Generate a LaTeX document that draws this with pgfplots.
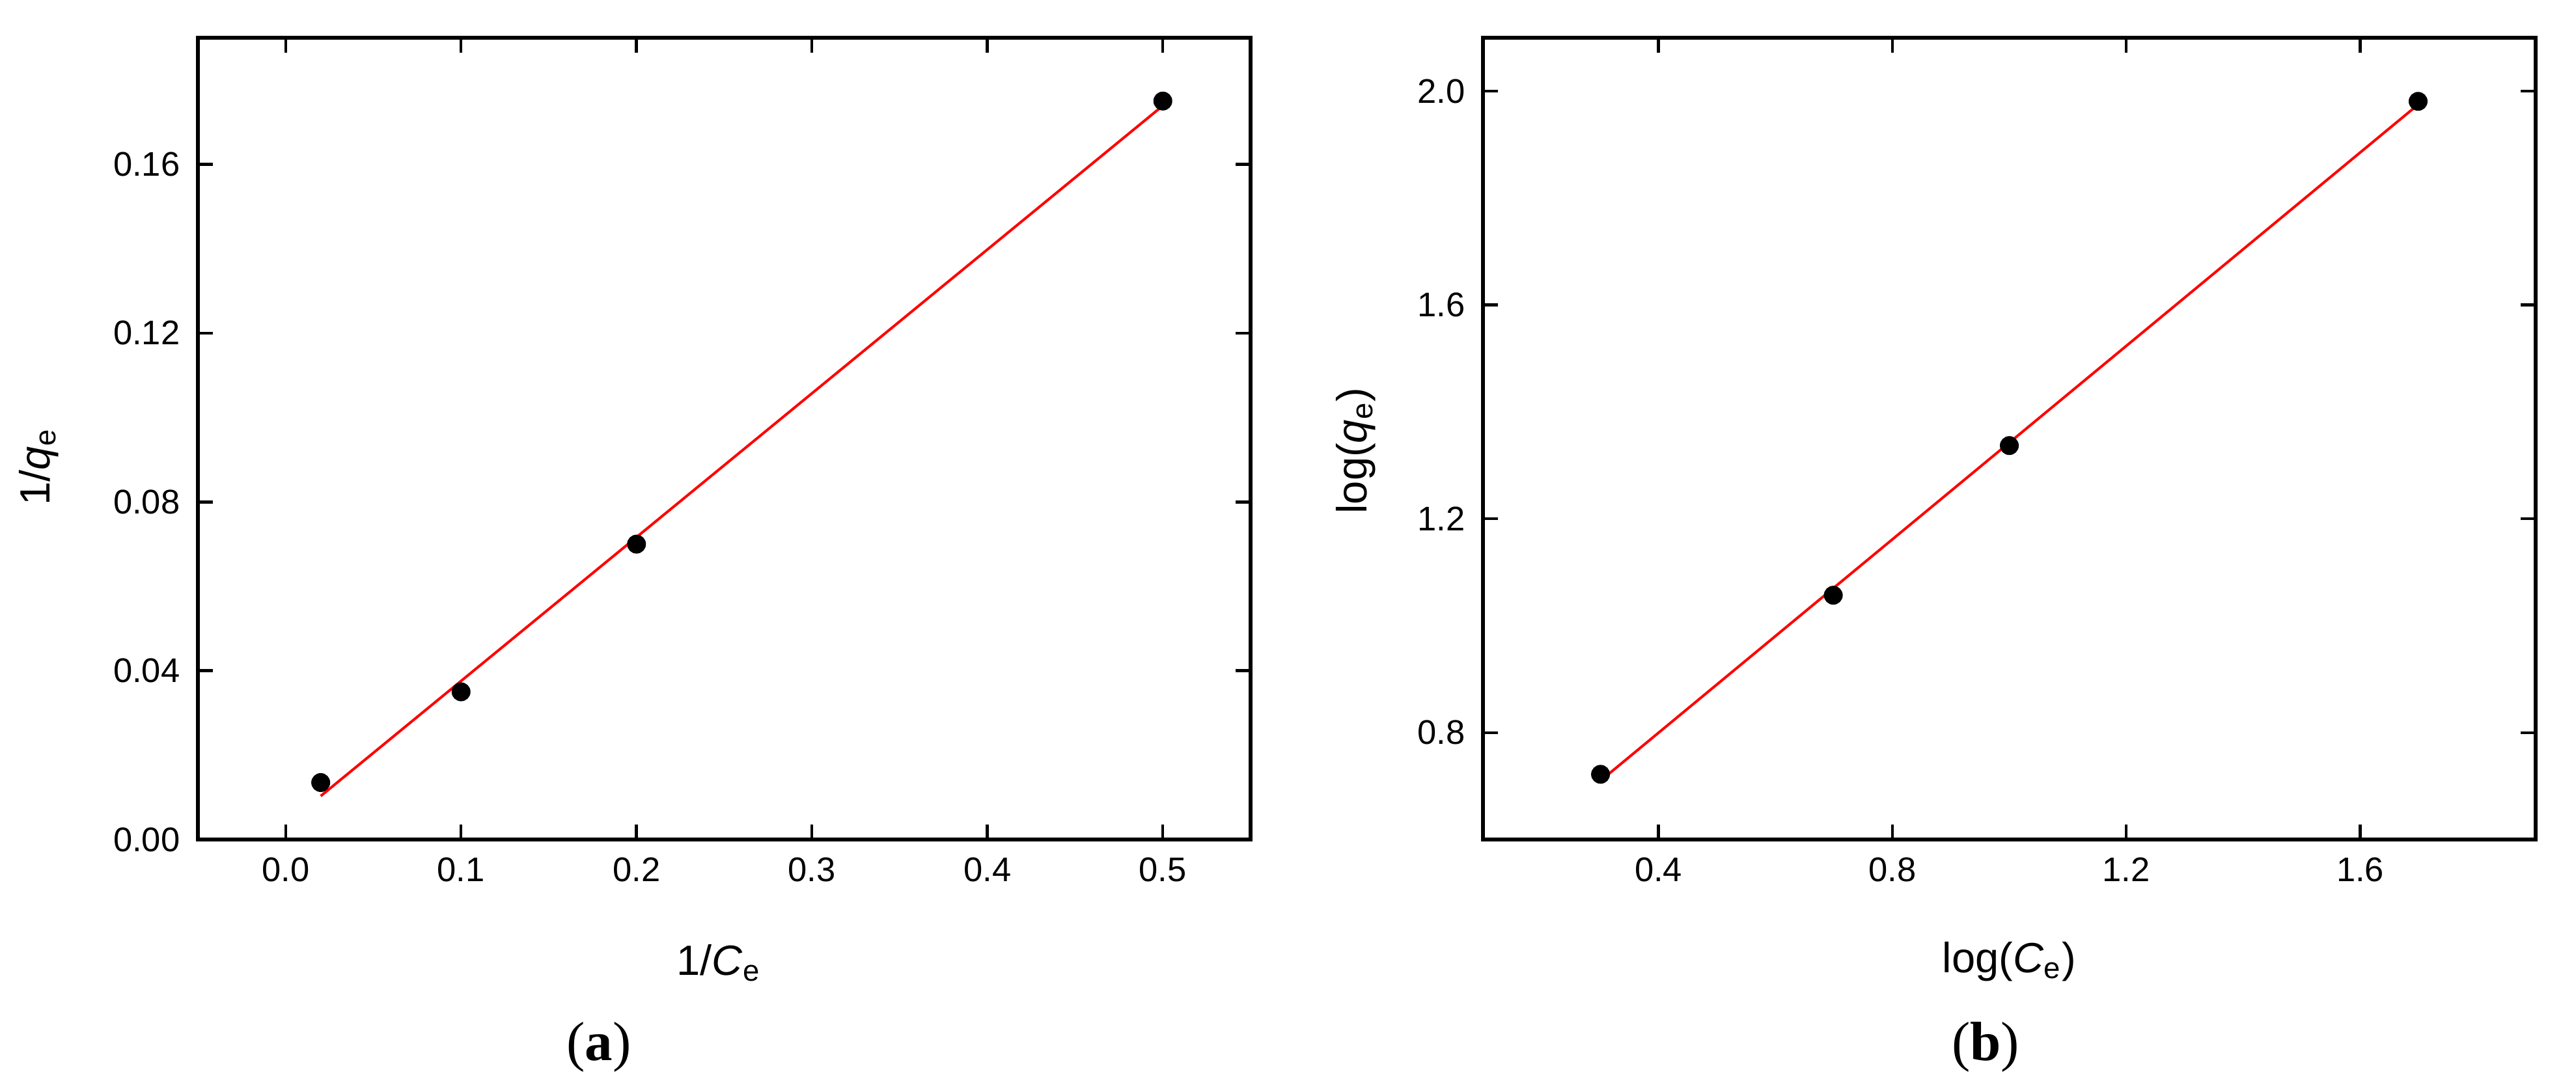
\documentclass[border=0pt]{standalone}
\usepackage{fontspec}
\setmainfont{Liberation Sans}
\newfontfamily\capfont{Liberation Serif}
\usepackage{pgfplots}
\pgfplotsset{compat=1.18}

\pgfplotsset{
  isotherm/.style={
    scale only axis,
    width=323.4pt,height=246.4pt,
    axis line style={line width=1.1pt},
    tick align=inside,
    major tick length=4.6pt,
    every tick/.style={black,line width=0.9pt},
    tick label style={font=\fontsize{10.5}{12}\selectfont},
    xticklabel style={yshift=-2pt},
    yticklabel style={xshift=-2pt},
    label style={font=\fontsize{13}{15}\selectfont},
    scaled ticks=false,
    /pgf/number format/assume math mode=true,
    /pgf/number format/fixed,
    /pgf/number format/fixed zerofill,
  },
  pts/.style={only marks,mark=*,mark size=2.7pt,black,mark options={fill=black}},
  fit/.style={no marks,red,line width=0.8pt},
}

\begin{document}
\begin{tikzpicture}
\path[use as bounding box] (-60.8pt,-77.4pt) rectangle (730.6pt,258pt);

% (a) Langmuir
\begin{axis}[isotherm,name=A,at={(0,0)},anchor=south west,
  xmin=-0.05,xmax=0.55,ymin=0,ymax=0.19,
  xtick={0,0.1,...,0.5},ytick={0,0.04,...,0.16},
  xticklabel style={/pgf/number format/precision=1},
  yticklabel style={/pgf/number format/precision=2},
  xlabel={1/\textit{C}\textsubscript{e}},
  ylabel={1/\textit{q}\textsubscript{e}},
  xlabel style={at={(axis description cs:0.495,-0.169)},anchor=base},
  ylabel style={at={(axis description cs:-0.151,0.465)},anchor=center},
]
\addplot[pts] coordinates {(0.02,0.0135)(0.1,0.035)(0.2,0.070)(0.5,0.175)};
\addplot[fit] coordinates {(0.02,0.0103)(0.5,0.1739)};
\end{axis}

% (b) Freundlich
\begin{axis}[isotherm,name=B,at={(394.8pt,0)},anchor=south west,
  xmin=0.1,xmax=1.9,ymin=0.6,ymax=2.1,
  xtick={0.4,0.8,1.2,1.6},ytick={0.8,1.2,1.6,2.0},
  xticklabel style={/pgf/number format/precision=1},
  yticklabel style={/pgf/number format/precision=1},
  xlabel={log(\textit{C}\textsubscript{e})},
  ylabel={log(\textit{q}\textsubscript{e})},
  xlabel style={at={(axis description cs:0.5,-0.166)},anchor=base},
  ylabel style={at={(axis description cs:-0.121,0.485)},anchor=center},
]
\addplot[pts] coordinates {(0.301,0.722)(0.699,1.057)(1.0,1.337)(1.699,1.981)};
\addplot[fit] coordinates {(0.301,0.710)(1.699,1.975)};
\end{axis}

\node[font=\capfont\fontsize{17}{20}\selectfont] at ([shift={(123.2pt,-63.8pt)}]A.south west) {(\textbf{a})};
\node[font=\capfont\fontsize{17}{20}\selectfont] at ([shift={(154.4pt,-63.8pt)}]B.south west) {(\textbf{b})};
\end{tikzpicture}
\end{document}
